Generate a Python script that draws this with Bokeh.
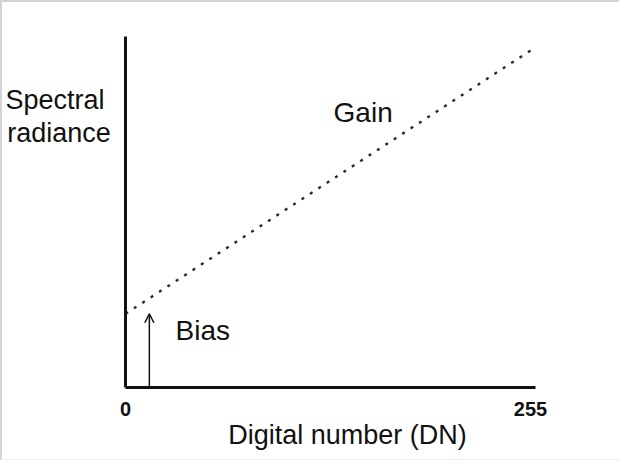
from bokeh.plotting import figure
from bokeh.models import Range1d, Label, Arrow, OpenHead, FixedTicker, LinearAxis
from bokeh.embed import file_html
from bokeh.resources import INLINE

# ---- data ----
dn = [0, 255]                 # digital number range
radiance = [21, 96]           # spectral radiance (arbitrary units): bias at DN 0, value at DN 255
bias_value = 21
bias_dn = 15                  # where the bias arrow is drawn
tick_values = [0, 255]
tick_labels = ["0", "255"]
x_label = "Digital number (DN)"
y_label = ["Spectral", "radiance"]
gain_label = "Gain"
bias_label = "Bias"

FONT = "Liberation Sans"
INK = "#111111"

p = figure(width=619, height=460, output_backend="svg", toolbar_location=None,
           x_axis_type=None, y_axis_type=None,
           x_range=Range1d(-77.46, 312.3), y_range=Range1d(-21.37, 109.69),
           min_border=0)
p.outline_line_color = None
p.background_fill_color = "white"
p.border_fill_color = "white"
p.xgrid.visible = False
p.ygrid.visible = False
p.styles = {"border-left": "2px solid #d4d4d4", "border-top": "2px solid #d4d4d4",
            "border-bottom": "1px solid #eeeeee"}

xaxis = LinearAxis(fixed_location=0, bounds=(0, 258.2),
                   ticker=FixedTicker(ticks=tick_values),
                   major_label_overrides={v: s for v, s in zip(tick_values, tick_labels)})
yaxis = LinearAxis(fixed_location=0, bounds=(0, 100), ticker=FixedTicker(ticks=[]),
                   major_label_text_font_size="0px")
for ax in (xaxis, yaxis):
    ax.axis_line_width = 3
    ax.axis_line_color = INK
    ax.major_tick_line_color = None
    ax.minor_tick_line_color = None
xaxis.major_label_text_font = FONT
xaxis.major_label_text_font_size = "20px"
xaxis.major_label_text_font_style = "bold"
xaxis.major_label_text_color = INK
xaxis.major_label_standoff = 9
p.add_layout(xaxis, "below")
p.add_layout(yaxis, "left")

# gain line
p.line(dn, radiance, line_color="#2a2a2a", line_width=2.4, line_dash="3 7")

# bias arrow
p.add_layout(Arrow(x_start=bias_dn, y_start=0, x_end=bias_dn, y_end=bias_value,
                   line_width=1.5, line_color=INK,
                   end=OpenHead(size=9, line_width=1.5, line_color=INK)))

def lab(text, x, y, size, align="left"):
    p.add_layout(Label(x=x, y=y, text=text, text_font=FONT, text_font_size=size,
                       text_color=INK, text_align=align, text_baseline="alphabetic"))

lab(y_label[0], -75.6, 81.8, "27px")
lab(y_label[1], -74.5, 72.4, "27px")
lab(gain_label, 131, 78.3, "28px")
lab(bias_label, 31.5, 16.2, "28px")
lab(x_label, 139.8, -13.4, "27px", align="center")

open("out.html", "w").write(file_html(p, INLINE))
